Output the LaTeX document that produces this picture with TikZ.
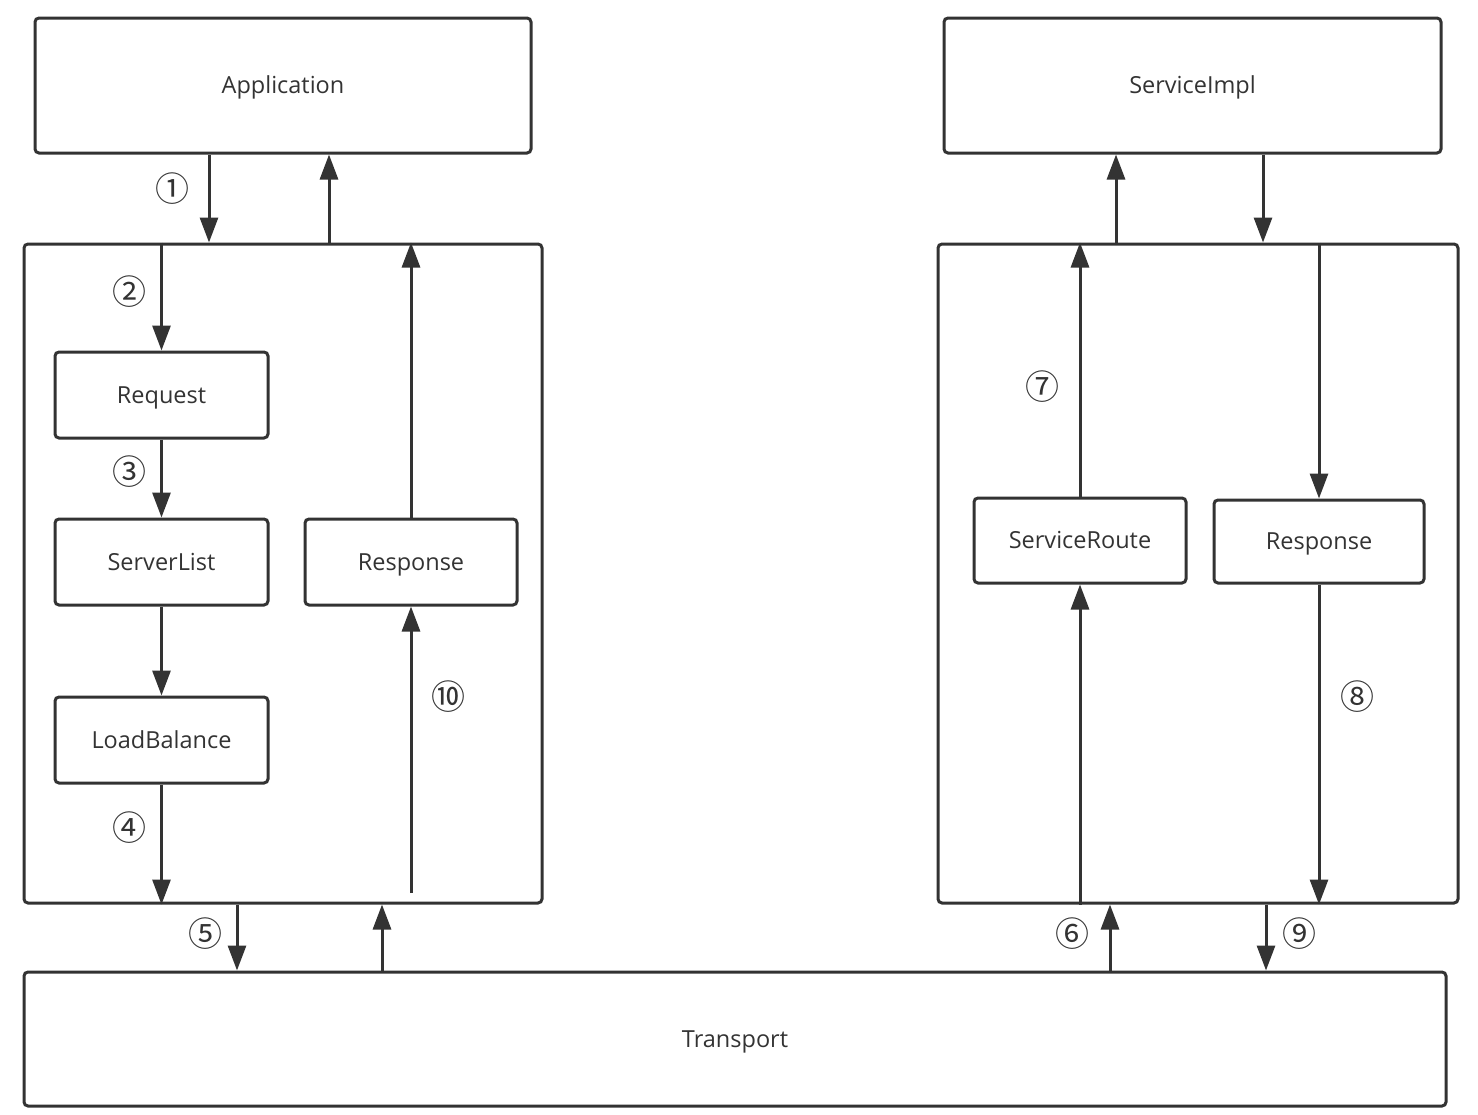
\documentclass[tikz,border=0pt]{standalone}
\usepackage{fontspec}
\setmainfont{Open Sans}
\newfontfamily\circfont{Noto Sans CJK SC}
\usetikzlibrary{arrows.meta}
\definecolor{ink}{HTML}{333333}
\begin{document}
\begin{tikzpicture}[x=1pt,y=-1pt,
  box/.style={draw=ink,line width=3pt,rounded corners=4pt,inner sep=0pt,
    font=\fontsize{23.5}{28}\selectfont,text=ink,text height=19pt,text depth=3pt},
  arr/.style={draw=ink,line width=3pt,-{Triangle[length=25pt,width=18pt]}},
  num/.style={font=\circfont\fontsize{34}{36}\selectfont,text=ink,inner sep=0pt}]
\useasboundingbox (0,0) rectangle (1478,1114);

% outer blocks
\node[box,minimum width=496pt,minimum height=135pt] (app) at (283,85.5) {Application};
\node[box,minimum width=497pt,minimum height=135pt] (impl) at (1192.5,85.5) {ServiceImpl};
\node[box,minimum width=518pt,minimum height=659pt] (client) at (283,573.5) {};
\node[box,minimum width=520pt,minimum height=659pt] (server) at (1198,573.5) {};
\node[box,minimum width=1422pt,minimum height=134pt] (trans) at (735,1039) {Transport};

% client side
\node[box,minimum width=213pt,minimum height=86pt] (req) at (161.5,395) {Request};
\node[box,minimum width=213pt,minimum height=86pt] (slist) at (161.5,562) {ServerList};
\node[box,minimum width=213pt,minimum height=86pt] (lb) at (161.5,740) {LoadBalance};
\node[box,minimum width=212pt,minimum height=86pt] (cresp) at (411,562) {Response};

% server side
\node[box,minimum width=212pt,minimum height=85pt] (route) at (1080,540.5) {ServiceRoute};
\node[box,minimum width=210pt,minimum height=83pt] (sresp) at (1319,541.5) {Response};

% client flow
\draw[arr] (209,0 |- app.south) -- (209,0 |- client.north);
\draw[arr] (329,0 |- client.north) -- (329,0 |- app.south);
\draw[arr] (req.north |- client.north) -- (req.north);
\draw[arr] (req.south) -- (slist.north);
\draw[arr] (slist.south) -- (lb.north);
\draw[arr] (lb.south) -- (lb.south |- client.south);
\draw[arr] (cresp.south |- 0,893) -- (cresp.south);
\draw[arr] (cresp.north) -- (cresp.north |- client.north);
\draw[arr] (237,0 |- client.south) -- (237,0 |- trans.north);
\draw[arr] (382,0 |- trans.north) -- (382,0 |- client.south);

% server flow
\draw[arr] (1116,0 |- server.north) -- (1116,0 |- impl.south);
\draw[arr] (1263,0 |- impl.south) -- (1263,0 |- server.north);
\draw[arr] (route.north) -- (route.north |- server.north);
\draw[arr] (route.south |- server.south) -- (route.south);
\draw[arr] (sresp.north |- server.north) -- (sresp.north);
\draw[arr] (sresp.south) -- (sresp.south |- server.south);
\draw[arr] (1110,0 |- trans.north) -- (1110,0 |- server.south);
\draw[arr] (1266,0 |- server.south) -- (1266,0 |- trans.north);

% step numbers
\node[num] (n1) at (172,189) {①};
\node[num] (n2) at (129,292) {②};
\node[num] (n3) at (129,472) {③};
\node[num] (n4) at (129,828) {④};
\node[num] (n5) at (205,934) {⑤};
\node[num] (n6) at (1072,934) {⑥};
\node[num] (n7) at (1042,387) {⑦};
\node[num] (n8) at (1357,697) {⑧};
\node[num] (n9) at (1299,934) {⑨};
\node[num] (n10) at (448,697) {⑩};
\end{tikzpicture}
\end{document}
